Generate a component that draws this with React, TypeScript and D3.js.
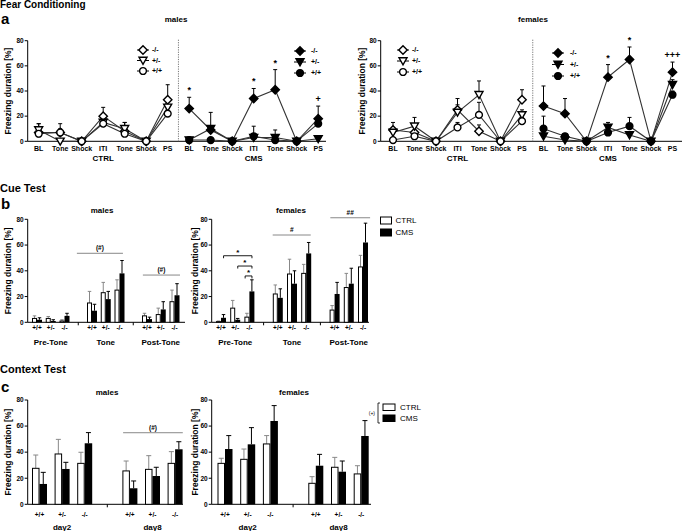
import React from "react";
import * as d3 from "d3";

const FONT = "'Liberation Sans', Arial, Helvetica, sans-serif";

// ---------- Panel a: Fear conditioning ----------
const fcCategories = ["BL", "Tone", "Shock", "ITI", "Tone", "Shock", "PS"];
const fcConditions = ["CTRL", "CMS"];
const genotypes = ["-/-", "+/-", "+/+"];
const fcShapes = ["diamond", "triangle", "circle"];

// males CTRL (order -/-, +/-, +/+)
const maleCtrlKO = [7, 7, 0, 20, 8, 0, 33];
const maleCtrlKOErr = [7, 7, 0, 7, 7, 0, 12];
const maleCtrlHet = [9, 0, 0, 15, 10, 0, 27];
const maleCtrlHetErr = [5, 0, 0, 5, 5, 0, 6];
const maleCtrlWT = [6, 7, 0, 14, 6, 0, 22];
const maleCtrlWTErr = [3, 3, 0, 4, 3, 0, 5];
// males CMS
const maleCmsKO = [26, 9, 0, 34, 41, 0, 18];
const maleCmsKOErr = [9, 2, 0, 8, 16, 0, 10];
const maleCmsHet = [1, 10, 0, 3, 3, 0, 2];
const maleCmsHetErr = [1, 13, 0, 3, 6, 0, 1];
const maleCmsWT = [1, 1, 0, 4, 1, 0, 14];
const maleCmsWTErr = [1, 1, 0, 8, 2, 0, 4];
// females CTRL
const femCtrlKO = [9, 7, 0, 25, 8, 0, 33];
const femCtrlKOErr = [6, 5, 0, 9, 5, 0, 8];
const femCtrlHet = [7, 12, 0, 23, 37, 0, 21];
const femCtrlHetErr = [4, 7, 0, 6, 11, 0, 4];
const femCtrlWT = [1, 4, 0, 11, 21, 0, 16];
const femCtrlWTErr = [2, 2, 0, 4, 10, 0, 3];
// females CMS
const femCmsKO = [28, 22, 0, 51, 65, 0, 55];
const femCmsKOErr = [16, 12, 0, 10, 10, 0, 8];
const femCmsHet = [4, 1, 0, 11, 5, 0, 45];
const femCmsHetErr = [3, 1, 0, 4, 2, 0, 4];
const femCmsWT = [10, 4, 0, 7, 12, 0, 37];
const femCmsWTErr = [10, 2, 0, 3, 7, 0, 3];

const maleFcAnnot = [
  { idx: 7, text: "*" },
  { idx: 10, text: "*" },
  { idx: 11, text: "*" },
  { idx: 13, text: "+" },
];
const femFcAnnot = [
  { idx: 10, text: "*" },
  { idx: 11, text: "*" },
  { idx: 13, text: "+++" },
];

// ---------- Panel b: Cue test ----------
const cueGroups = ["Pre-Tone", "Tone", "Post-Tone"];
const barGenotypes = ["+/+", "+/-", "-/-"];
const cueMaleCtrl = [3, 3, 1, 15, 23, 25, 5, 6, 16];
const cueMaleCtrlErr = [2, 1.5, 1, 9, 8, 8, 2, 5, 9];
const cueMaleCms = [2, 1, 5, 9, 18, 38, 2.5, 10, 21];
const cueMaleCmsErr = [1.5, 1, 2, 5, 6, 10, 1.5, 6, 9];
const cueFemCtrl = [0.5, 11, 4, 22, 37.5, 38, 9.5, 27, 43];
const cueFemCtrlErr = [0.5, 6, 3, 7, 11.5, 7, 3.5, 11, 9];
const cueFemCms = [3.5, 2, 24, 19, 30, 53.5, 22, 30, 62];
const cueFemCmsErr = [2.5, 1, 9, 7, 10, 8.5, 9, 12, 15];

// ---------- Panel c: Context test ----------
const ctxGroups = ["day2", "day8"];
const ctxMaleCtrl = [27.6, 38.6, 31.4, 25.6, 26.8, 31.4];
const ctxMaleCtrlErr = [10.2, 11.2, 8.5, 7.6, 10.5, 9];
const ctxMaleCms = [15.6, 27.1, 46.8, 12.3, 21.7, 42.2];
const ctxMaleCmsErr = [8.9, 5.1, 8.2, 5.6, 6.7, 5.8];
const ctxFemCtrl = [31.4, 34.5, 46.3, 16.1, 28.4, 23.3];
const ctxFemCtrlErr = [3.9, 7.9, 6.4, 5.1, 7.6, 6.3];
const ctxFemCms = [42.4, 46, 63.9, 29.6, 25, 52.4];
const ctxFemCmsErr = [10.3, 12.8, 11.8, 8.7, 8.2, 11.8];

const legendLabels = ["CTRL", "CMS"];
const yTicks = [0, 20, 40, 60, 80];

function markerPath(shape: string): string {
  if (shape === "diamond") return "M0,-4.2L4.2,0L0,4.2L-4.2,0Z";
  if (shape === "triangle") return "M-4,-3.2L4,-3.2L0,3.8Z";
  const p = d3.path();
  p.arc(0, 0, 3.4, 0, Math.PI * 2);
  p.closePath();
  return p.toString();
}

function Marker({ shape, filled, x, y }: any) {
  return (
    <path
      d={markerPath(shape)}
      transform={`translate(${x},${y})`}
      fill={filled ? "#000" : "#fff"}
      stroke="#000"
      strokeWidth={1.4}
    />
  );
}

function YAxis({ axisX, y, titleX }: any) {
  const r = y.range();
  return (
    <g>
      <line x1={axisX} x2={axisX} y1={y(0)} y2={y(80)} stroke="#000" strokeWidth={1} />
      {yTicks.map((t) => (
        <g key={t}>
          <line x1={axisX - 3} x2={axisX} y1={y(t)} y2={y(t)} stroke="#000" strokeWidth={1} />
          <text
            x={axisX - 4}
            y={y(t)}
            dy="0.35em"
            textAnchor="end"
            fontSize={6.5}
            fontWeight="bold"
          >
            {t}
          </text>
        </g>
      ))}
      <text
        transform={`translate(${titleX},${(r[0] + r[1]) / 2}) rotate(-90)`}
        textAnchor="middle"
        dy="0.35em"
        fontSize={8.5}
        fontWeight="bold"
      >
        Freezing duration [%]
      </text>
    </g>
  );
}

function FearPanel(props: any) {
  const { axisX, xEnd, xFirst, xLast, titleX, title, yTitleX, series, annots, legends } = props;
  const y = d3.scaleLinear().domain([0, 80]).range([141.3, 40.7]);
  const x = d3.scaleLinear().domain([0, 13]).range([xFirst, xLast]);
  return (
    <g>
      <YAxis axisX={axisX} y={y} titleX={yTitleX} />
      <line x1={axisX} x2={xEnd} y1={y(0)} y2={y(0)} stroke="#000" strokeWidth={1} />
      <line
        x1={x(6.5)}
        x2={x(6.5)}
        y1={y(80) - 1}
        y2={y(0)}
        stroke="#555"
        strokeWidth={0.8}
        strokeDasharray="1.2,1.2"
      />
      <text x={titleX} y={22} textAnchor="middle" fontSize={8} fontWeight="bold">
        {title}
      </text>
      {fcConditions.map((c, ci) =>
        fcCategories.map((cat, i) => (
          <text
            key={c + i}
            x={x(ci * 7 + i)}
            y={150.5}
            textAnchor="middle"
            fontSize={7}
            fontWeight="bold"
          >
            {cat}
          </text>
        ))
      )}
      {fcConditions.map((c, ci) => (
        <text key={c} x={x(ci * 7 + 3)} y={160.5} textAnchor="middle" fontSize={8} fontWeight="bold">
          {c}
        </text>
      ))}
      {series.map((s: any, si: number) => {
        const off = s.cond * 7;
        const lg = d3
          .line<number>()
          .x((_, i) => x(off + i))
          .y((d) => y(d));
        return (
          <g key={si}>
            <path d={lg(s.mean) || ""} fill="none" stroke="#333" strokeWidth={1.1} />
            {s.mean.map((m: number, i: number) =>
              s.err[i] > 0 ? (
                <g key={i}>
                  <line x1={x(off + i)} x2={x(off + i)} y1={y(m)} y2={y(m + s.err[i])} stroke="#000" strokeWidth={1} />
                  <line x1={x(off + i) - 2} x2={x(off + i) + 2} y1={y(m + s.err[i])} y2={y(m + s.err[i])} stroke="#000" strokeWidth={1} />
                </g>
              ) : null
            )}
          </g>
        );
      })}
      {series.map((s: any, si: number) =>
        s.mean.map((m: number, i: number) => (
          <Marker key={si + "-" + i} shape={s.shape} filled={s.cond === 1} x={x(s.cond * 7 + i)} y={y(m)} />
        ))
      )}
      {annots.map((a: any, k: number) => {
        const local = a.idx - 7;
        const tops = series
          .filter((s: any) => s.cond === 1)
          .map((s: any) => s.mean[local] + s.err[local]);
        const top = d3.max(tops) as number;
        return (
          <text key={k} x={x(a.idx)} y={y(top) - 4} textAnchor="middle" fontSize={9} fontWeight="bold" fill="#000">
            {a.text}
          </text>
        );
      })}
      {legends.map((lgd: any, li: number) =>
        genotypes.map((g, gi) => (
          <g key={li + g}>
            <line
              x1={lgd.x - 6}
              x2={lgd.x + 6}
              y1={lgd.y + gi * lgd.dy}
              y2={lgd.y + gi * lgd.dy}
              stroke="#000"
              strokeWidth={1}
            />
            <Marker shape={fcShapes[gi]} filled={li === 1} x={lgd.x} y={lgd.y + gi * lgd.dy} />
            <text x={lgd.x + lgd.tx} y={lgd.y + gi * lgd.dy} dy="0.35em" fontSize={7} fontWeight="bold">
              {g}
            </text>
          </g>
        ))
      )}
    </g>
  );
}

function BarPanel(props: any) {
  const {
    y0, y80, axisX, xEnd, slot0, slotStep, barW, cap, groups, nPer, ctrl, ctrlErr, cms, cmsErr,
    breaks, title, titleX, titleY, yTitleX, genoY, groupY, lines, brackets,
  } = props;
  const y = d3.scaleLinear().domain([0, 80]).range([y0, y80]);
  const x = d3.scaleLinear().domain([0, 1]).range([slot0, slot0 + slotStep]);
  const slotOf = (i: number) => Math.floor(i / nPer) * (nPer + 1) + (i % nPer);
  return (
    <g>
      <YAxis axisX={axisX} y={y} titleX={yTitleX} />
      <line x1={axisX} x2={xEnd} y1={y(0)} y2={y(0)} stroke="#000" strokeWidth={1} />
      {breaks.map((b: number) => (
        <line key={b} x1={x(b)} x2={x(b)} y1={y(0)} y2={y(0) + 3} stroke="#000" strokeWidth={1} />
      ))}
      <text x={titleX} y={titleY} textAnchor="middle" fontSize={8} fontWeight="bold">
        {title}
      </text>
      {ctrl.map((v: number, i: number) => {
        const cx = x(slotOf(i));
        const e = ctrlErr[i];
        return (
          <g key={"c" + i}>
            <line x1={cx - barW / 2} x2={cx - barW / 2} y1={y(v)} y2={y(v + e)} stroke="#888" strokeWidth={1} />
            <line x1={cx - barW / 2 - cap / 2} x2={cx - barW / 2 + cap / 2} y1={y(v + e)} y2={y(v + e)} stroke="#888" strokeWidth={1} />
            <rect x={cx - barW + 0.5} y={y(v)} width={barW - 1} height={Math.max(0, y(0) - y(v))} fill="#fff" stroke="#000" strokeWidth={1} />
          </g>
        );
      })}
      {cms.map((v: number, i: number) => {
        const cx = x(slotOf(i));
        const e = cmsErr[i];
        return (
          <g key={"m" + i}>
            <line x1={cx + barW / 2} x2={cx + barW / 2} y1={y(v)} y2={y(v + e)} stroke="#000" strokeWidth={1} />
            <line x1={cx + barW / 2 - cap / 2} x2={cx + barW / 2 + cap / 2} y1={y(v + e)} y2={y(v + e)} stroke="#000" strokeWidth={1} />
            <rect x={cx} y={y(v)} width={barW} height={Math.max(0, y(0) - y(v))} fill="#000" />
          </g>
        );
      })}
      {ctrl.map((_: number, i: number) => (
        <text key={"g" + i} x={x(slotOf(i))} y={genoY} textAnchor="middle" fontSize={6.5} fontWeight="bold">
          {barGenotypes[i % nPer]}
        </text>
      ))}
      {groups.map((g: string, gi: number) => (
        <text key={g} x={x(gi * (nPer + 1) + (nPer - 1) / 2)} y={groupY} textAnchor="middle" fontSize={8} fontWeight="bold">
          {g}
        </text>
      ))}
      {lines.map((l: any, k: number) => (
        <g key={"l" + k}>
          <line x1={x(l.s0)} x2={x(l.s1)} y1={y(l.v)} y2={y(l.v)} stroke="#888" strokeWidth={1} />
          <text x={(x(l.s0) + x(l.s1)) / 2} y={y(l.v) - 3} textAnchor="middle" fontSize={6.5} fontWeight="bold" fill="#000">
            {l.text}
          </text>
        </g>
      ))}
      {brackets.map((b: any, k: number) => (
        <g key={"b" + k}>
          <path
            d={`M${x(b.s0)},${y(b.v) + 2.5}V${y(b.v)}H${x(b.s1)}V${y(b.v) + 2.5}`}
            fill="none"
            stroke="#000"
            strokeWidth={0.9}
          />
          <text x={(x(b.s0) + x(b.s1)) / 2} y={y(b.v) - 1} textAnchor="middle" fontSize={8} fontWeight="bold" fill="#000">
            *
          </text>
        </g>
      ))}
    </g>
  );
}

function BarLegend({ x, y, dy, w, h, tx }: any) {
  return (
    <g>
      {legendLabels.map((l, i) => (
        <g key={l}>
          <rect
            x={x}
            y={y + i * dy}
            width={w}
            height={h}
            fill={i === 0 ? "#fff" : "#000"}
            stroke="#000"
            strokeWidth={1}
          />
          <text x={x + tx} y={y + i * dy + h / 2} dy="0.35em" fontSize={8}>
            {l}
          </text>
        </g>
      ))}
    </g>
  );
}

export default function App() {
  const maleSeries = [
    { cond: 0, shape: "diamond", mean: maleCtrlKO, err: maleCtrlKOErr },
    { cond: 0, shape: "triangle", mean: maleCtrlHet, err: maleCtrlHetErr },
    { cond: 0, shape: "circle", mean: maleCtrlWT, err: maleCtrlWTErr },
    { cond: 1, shape: "diamond", mean: maleCmsKO, err: maleCmsKOErr },
    { cond: 1, shape: "triangle", mean: maleCmsHet, err: maleCmsHetErr },
    { cond: 1, shape: "circle", mean: maleCmsWT, err: maleCmsWTErr },
  ];
  const femSeries = [
    { cond: 0, shape: "diamond", mean: femCtrlKO, err: femCtrlKOErr },
    { cond: 0, shape: "triangle", mean: femCtrlHet, err: femCtrlHetErr },
    { cond: 0, shape: "circle", mean: femCtrlWT, err: femCtrlWTErr },
    { cond: 1, shape: "diamond", mean: femCmsKO, err: femCmsKOErr },
    { cond: 1, shape: "triangle", mean: femCmsHet, err: femCmsHetErr },
    { cond: 1, shape: "circle", mean: femCmsWT, err: femCmsWTErr },
  ];
  return (
    <svg
      width={685}
      height={531}
      style={{ position: "absolute", left: 0, top: 0, background: "#fff" }}
      fontFamily={FONT}
    >
      <rect width={685} height={531} fill="#fff" />
      {/* section headers */}
      <text x={0} y={8} fontSize={10} fontWeight="bold">Fear Conditioning</text>
      <text x={1} y={24} fontSize={15} fontWeight="bold">a</text>
      <text x={0} y={192} fontSize={11} fontWeight="bold">Cue Test</text>
      <text x={1} y={209} fontSize={15} fontWeight="bold">b</text>
      <text x={0} y={373} fontSize={11} fontWeight="bold">Context Test</text>
      <text x={1} y={392} fontSize={15} fontWeight="bold">c</text>

      <FearPanel
        axisX={27.7}
        xEnd={326}
        xFirst={38.7}
        xLast={318.2}
        title="males"
        titleX={176}
        yTitleX={8}
        series={maleSeries}
        annots={maleFcAnnot}
        legends={[
          { x: 143, y: 50, dy: 10.5, tx: 9 },
          { x: 300, y: 51, dy: 11, tx: 11 },
        ]}
      />
      <FearPanel
        axisX={380.7}
        xEnd={682}
        xFirst={393}
        xLast={672.5}
        title="females"
        titleX={533}
        yTitleX={362}
        series={femSeries}
        annots={femFcAnnot}
        legends={[
          { x: 403, y: 50, dy: 11, tx: 9 },
          { x: 558, y: 53, dy: 11.5, tx: 12 },
        ]}
      />

      <BarPanel
        y0={322.3}
        y80={219.3}
        axisX={27.7}
        xEnd={185}
        slot0={37}
        slotStep={13.75}
        barW={5}
        cap={3.5}
        groups={cueGroups}
        nPer={3}
        ctrl={cueMaleCtrl}
        ctrlErr={cueMaleCtrlErr}
        cms={cueMaleCms}
        cmsErr={cueMaleCmsErr}
        breaks={[3, 7]}
        title="males"
        titleX={102}
        titleY={213}
        yTitleX={8}
        genoY={329.5}
        groupY={344.5}
        lines={[
          { s0: 2.9, s1: 6.25, v: 53.6, text: "(#)" },
          { s0: 7.7, s1: 10.4, v: 36.7, text: "(#)" },
        ]}
        brackets={[]}
      />
      <BarPanel
        y0={322.3}
        y80={219.3}
        axisX={211.7}
        xEnd={369}
        slot0={221}
        slotStep={14.2}
        barW={5}
        cap={3.5}
        groups={cueGroups}
        nPer={3}
        ctrl={cueFemCtrl}
        ctrlErr={cueFemCtrlErr}
        cms={cueFemCms}
        cmsErr={cueFemCmsErr}
        breaks={[3, 7]}
        title="females"
        titleX={291}
        titleY={213}
        yTitleX={195}
        genoY={329.5}
        groupY={344.5}
        lines={[
          { s0: 3.64, s1: 6.32, v: 67.8, text: "#" },
          { s0: 7.7, s1: 10.5, v: 81.2, text: "##" },
        ]}
        brackets={[
          { s0: 0.18, s1: 2.18, v: 51.7 },
          { s0: 1.18, s1: 2.18, v: 43.7 },
          { s0: 1.7, s1: 2.18, v: 36 },
        ]}
      />
      <BarLegend x={380.5} y={217} dy={12} w={11} h={7} tx={15} />

      <BarPanel
        y0={504.3}
        y80={400}
        axisX={27.7}
        xEnd={183}
        slot0={39.5}
        slotStep={22.6}
        barW={7.5}
        cap={5}
        groups={ctxGroups}
        nPer={3}
        ctrl={ctxMaleCtrl}
        ctrlErr={ctxMaleCtrlErr}
        cms={ctxMaleCms}
        cmsErr={ctxMaleCmsErr}
        breaks={[3]}
        title="males"
        titleX={107}
        titleY={395}
        yTitleX={8}
        genoY={517}
        groupY={529.5}
        lines={[{ s0: 3.7, s1: 6.34, v: 54.9, text: "(#)" }]}
        brackets={[]}
      />
      <BarPanel
        y0={504.3}
        y80={400}
        axisX={211.7}
        xEnd={371}
        slot0={225}
        slotStep={22.7}
        barW={7.5}
        cap={5}
        groups={ctxGroups}
        nPer={3}
        ctrl={ctxFemCtrl}
        ctrlErr={ctxFemCtrlErr}
        cms={ctxFemCms}
        cmsErr={ctxFemCmsErr}
        breaks={[3]}
        title="females"
        titleX={294}
        titleY={395}
        yTitleX={195}
        genoY={517}
        groupY={529.5}
        lines={[]}
        brackets={[]}
      />
      <BarLegend x={383} y={404} dy={11} w={12} h={6.5} tx={17} />
      <path d="M380,403H378V423H380" fill="none" stroke="#000" strokeWidth={0.8} />
      <text x={375} y={413} dy="0.35em" textAnchor="end" fontSize={5}>(+)</text>
    </svg>
  );
}
